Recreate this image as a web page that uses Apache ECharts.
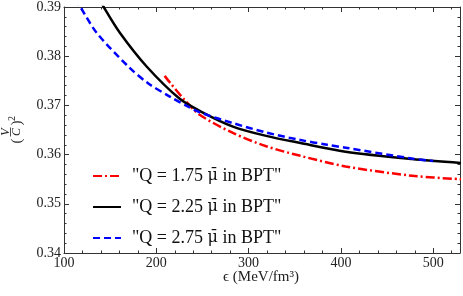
<!DOCTYPE html>
<html>
<head>
<meta charset="utf-8">
<script src="https://cdn.jsdelivr.net/npm/echarts@6/dist/echarts.min.js"></script>
<style>html,body{margin:0;padding:0;background:#fff;}#c{width:463px;height:296px;}</style>
</head>
<body>
<div id="c"></div>
<script>
// ---- data ----
var seriesNames = ['"Q = 1.75 \u03BC\u0304 in BPT"', '"Q = 2.25 \u03BC\u0304 in BPT"', '"Q = 2.75 \u03BC\u0304 in BPT"'];
var redX   = [209, 215, 230.7, 247, 283, 319, 355, 405, 477, 530];
var redY   = [0.3760, 0.3746, 0.3711, 0.3681, 0.3644, 0.3617, 0.3598, 0.3576, 0.3557, 0.3550];
var blackX = [140, 143, 160.7, 189.5, 225, 250, 283, 319, 355, 405, 477, 530];
var blackY = [0.3912, 0.3900, 0.3847, 0.3779, 0.3714, 0.3686, 0.3657, 0.3638, 0.3624, 0.3606, 0.3591, 0.3583];
var blueX  = [112, 117.7, 135.6, 169.7, 191, 214.6, 234, 247, 283, 319, 355, 385, 405, 477, 500];
var blueY  = [0.3916, 0.3900, 0.3847, 0.3779, 0.3745, 0.3718, 0.3698, 0.3686, 0.3664, 0.3645, 0.3630, 0.3620, 0.3614, 0.3592, 0.3587];
var xTicks = [100, 200, 300, 400, 500];
var yTicks = [0.34, 0.35, 0.36, 0.37, 0.38, 0.39];

function pairs(xs, ys) { return xs.map(function (x, i) { return [x, ys[i]]; }); }

var FONT = '"Liberation Serif", "DejaVu Serif", serif';
var AX = '#333';
var chart = echarts.init(document.getElementById('c'), null, { renderer: 'canvas' });

function xAx(show) {
  return {
    type: 'value', min: 100, max: 529, interval: 100,
    position: show ? 'bottom' : 'top',
    axisLine: { show: true, onZero: false, lineStyle: { color: AX, width: 1 } },
    axisTick: { show: true, inside: true, length: 5, lineStyle: { color: AX } },
    minorTick: { show: true, splitNumber: 5, length: 2.5, lineStyle: { color: AX } },
    axisLabel: { show: show, fontFamily: FONT, fontSize: 14, color: '#222', margin: 3,
      formatter: function (v) { return xTicks.indexOf(v) >= 0 ? String(v) : ''; } },
    splitLine: { show: false }
  };
}
function yAx(show) {
  return {
    type: 'value', min: 0.34, max: 0.39, interval: 0.01,
    position: show ? 'left' : 'right',
    axisLine: { show: true, onZero: false, lineStyle: { color: AX, width: 1 } },
    axisTick: { show: true, inside: true, length: 5, lineStyle: { color: AX } },
    minorTick: { show: true, splitNumber: 5, length: 2.5, lineStyle: { color: AX } },
    axisLabel: { show: show, fontFamily: FONT, fontSize: 14, color: '#222', margin: 3,
      formatter: function (v) {
        var s = v.toFixed(2);
        return yTicks.some(function (t) { return Math.abs(t - v) < 1e-9; }) ? s : '';
      } },
    splitLine: { show: false }
  };
}

var option = {
  animation: false,
  backgroundColor: '#fff',
  grid: { left: 64, right: 1.5, top: 7, bottom: 43, containLabel: false },
  xAxis: [xAx(true), xAx(false)],
  yAxis: [yAx(true), yAx(false)],
  legend: {
    orient: 'vertical', left: 92, top: 167, padding: 0,
    itemWidth: 28, itemHeight: 14, itemGap: 13,
    itemStyle: { opacity: 0 },
    lineStyle: { width: 2 },
    formatter: function (name) { return name.replace('\u03BC\u0304', '{m|\u03BC\u0304}'); },
    textStyle: { fontFamily: FONT, fontSize: 18, lineHeight: 14, color: '#111', padding: [0, 0, 0, 6],
      rich: { m: { fontFamily: '"DejaVu Serif", serif', fontSize: 16, lineHeight: 14, color: '#111' } } },
    data: seriesNames
  },
  series: [
    { name: seriesNames[0], type: 'line', xAxisIndex: 0, yAxisIndex: 0, data: pairs(redX, redY),
      smooth: 0.3, symbol: 'none', clip: true,
      lineStyle: { color: '#ff0000', width: 2.5, type: [9, 3, 2, 3] }, itemStyle: { color: '#ff0000' } },
    { name: seriesNames[1], type: 'line', xAxisIndex: 0, yAxisIndex: 0, data: pairs(blackX, blackY),
      smooth: 0.3, symbol: 'none', clip: true,
      lineStyle: { color: '#000000', width: 2.5, type: 'solid' }, itemStyle: { color: '#000000' } },
    { name: seriesNames[2], type: 'line', xAxisIndex: 0, yAxisIndex: 0, data: pairs(blueX, blueY),
      smooth: 0.3, symbol: 'none', clip: true,
      lineStyle: { color: '#0000ff', width: 2.5, type: [7, 4] }, itemStyle: { color: '#0000ff' } }
  ],
  graphic: [
    { type: 'text', x: 261, y: 277,
      style: { text: '\u03F5 (MeV/fm\u00B3)', fontFamily: FONT, fontSize: 15, fill: '#222',
        align: 'center', verticalAlign: 'middle' } },
    { type: 'group', x: 11, y: 132, rotation: Math.PI / 2,
      children: [
        { type: 'text', x: 0, y: -5.5, style: { text: 'V', fontFamily: FONT, fontStyle: 'italic', fontSize: 12, fill: '#222', align: 'center', verticalAlign: 'middle' } },
        { type: 'line', shape: { x1: -4.5, y1: -0.5, x2: 4.5, y2: -0.5 }, style: { stroke: '#222', lineWidth: 0.8 } },
        { type: 'text', x: 0, y: 5.5, style: { text: 'C', fontFamily: FONT, fontStyle: 'italic', fontSize: 12, fill: '#222', align: 'center', verticalAlign: 'middle' } },
        { type: 'text', x: -9, y: 6, style: { text: '(', fontFamily: FONT, fontSize: 15, fill: '#222', align: 'center', verticalAlign: 'middle' } },
        { type: 'text', x: 9, y: 6, style: { text: ')', fontFamily: FONT, fontSize: 15, fill: '#222', align: 'center', verticalAlign: 'middle' } },
        { type: 'text', x: 13.5, y: 1.5, style: { text: '2', fontFamily: FONT, fontSize: 10, fill: '#222', align: 'center', verticalAlign: 'middle' } }
      ] }
  ]
};
chart.setOption(option);
</script>
</body>
</html>
